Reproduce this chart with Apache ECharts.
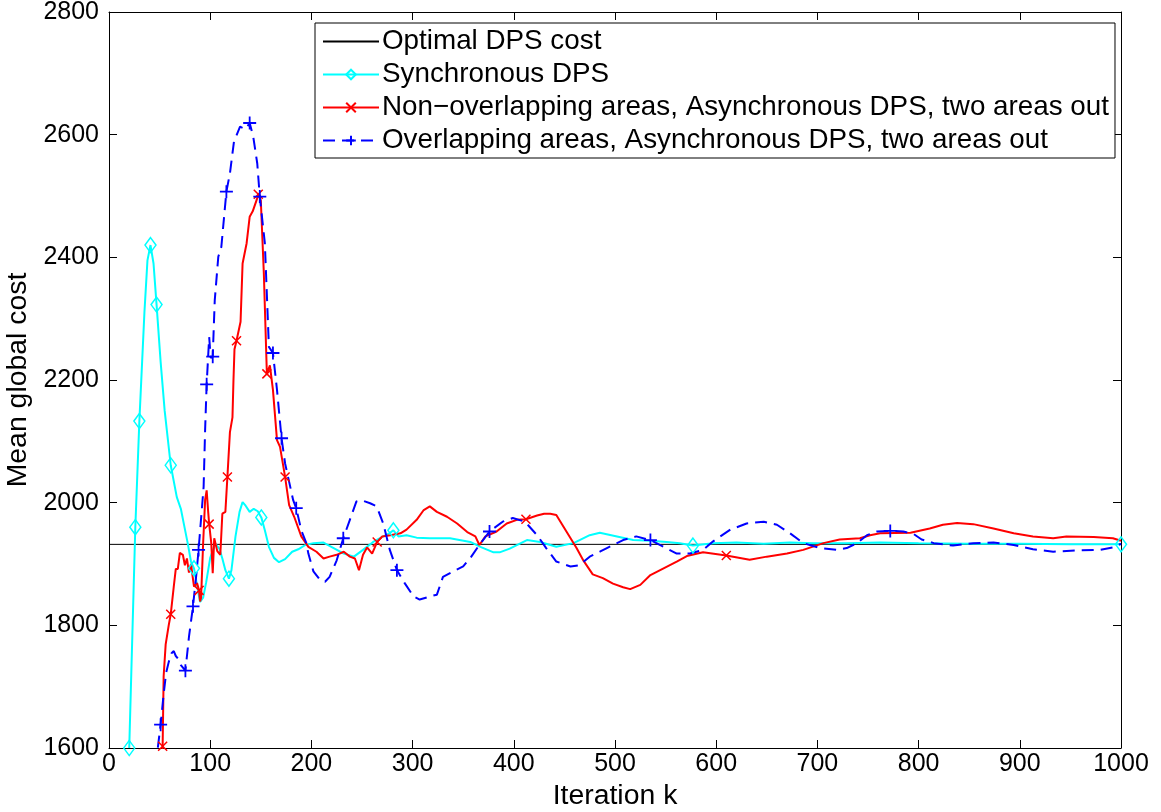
<!DOCTYPE html>
<html>
<head>
<meta charset="utf-8">
<script src="https://cdn.jsdelivr.net/npm/echarts@6/dist/echarts.min.js"></script>
<style>html,body{margin:0;padding:0;background:#fff}#chart{width:1161px;height:812px}</style>
</head>
<body>
<div id="chart"></div>
<script>
// ---- data (iteration k, mean global cost, marker flag) ----
const optimalCost = 1932;
const xTicks = [0, 100, 200, 300, 400, 500, 600, 700, 800, 900, 1000];
const yTicks = [1600, 1800, 2000, 2200, 2400, 2600, 2800];
const seriesNames = [
  'Optimal DPS cost',
  'Synchronous DPS',
  'Non\u2212overlapping areas, Asynchronous DPS, two areas out',
  'Overlapping areas, Asynchronous DPS, two areas out'
];
const syncPoints = [
  [20,1600,1],[26,1960,1],[30,2133,1],[35,2310,0],[38,2395,0],[41,2420,1],[44,2390,0],[47,2323,1],
  [51,2230,0],[55,2150,0],[61,2061,1],[67,2009,0],[71,1990,0],[74,1965,0],[78,1932,0],[81,1904,0],
  [84,1893,1],[87,1865,0],[90,1838,0],[93,1845,0],[96,1870,0],[100,1910,0],[105,1933,0],[109,1925,0],
  [112,1909,0],[115,1890,0],[118.5,1876,1],[121,1890,0],[125,1945,0],[129,1985,0],[132,2001,0],
  [135,1995,0],[139,1985,0],[143,1990,0],[147,1986,0],[150.5,1976,1],[154,1955,0],[158,1928,0],
  [163,1910,0],[168,1903,0],[174,1908,0],[181,1920,0],[187,1924,0],[194,1931,0],[202,1934,0],
  [212,1935,0],[222,1926,0],[232,1917,0],[242,1912,0],[251,1923,0],[261,1936,0],[271,1945,0],
  [277,1950,0],[281,1955,1],[286,1945,0],[294,1947,0],[304,1943,0],[317,1942,0],[337,1942,0],
  [357,1936,0],[367,1928,0],[380,1919,0],[386,1919,0],[396,1925,0],[413,1939,0],[426,1936,0],
  [442,1928,0],[459,1934,0],[475,1947,0],[485,1951,0],[502,1945,0],[518,1939,0],[535,1938,0],
  [551,1936,0],[564,1934,0],[577,1930,1],[597,1934,0],[620,1935,0],[647,1933,0],[673,1935,0],
  [696,1934,0],[729,1934,0],[762,1935,0],[800,1934,0],[850,1933,0],[900,1933,0],[950,1932,0],
  [1000,1932,1]
];
const nonOverlapPoints = [
  [52,1560,0],[53,1603,1],[54,1717,0],[56,1769,0],[59,1800,0],[61,1818,1],[64,1863,0],[66,1892,0],
  [68,1892,0],[70,1918,0],[73,1915,0],[75,1898,0],[77,1909,0],[79,1886,0],[81,1900,0],[84,1863,0],
  [87,1869,0],[89,1857,1],[90,1839,0],[91,1845,0],[93,1933,0],[95,2005,0],[96.5,2020,0],[98,1985,0],
  [99,1965,1],[101,1935,0],[102.5,1885,0],[104,1942,0],[107,1921,0],[110,1915,0],[112,1982,0],
  [115,1985,0],[117,2042,1],[119.5,2115,0],[122,2139,0],[123,2200,0],[124,2250,0],[126,2264,1],
  [130,2295,0],[132,2390,0],[136,2423,0],[139,2466,0],[142,2475,0],[146,2494,0],[147.5,2503,1],
  [150,2493,0],[153,2374,0],[156,2210,1],[159,2224,0],[162,2184,0],[166,2102,0],[169,2091,0],
  [174,2042,1],[178,1996,0],[183,1977,0],[190,1945,0],[197,1928,0],[205,1920,0],[212,1909,0],
  [218,1912,0],[225,1915,0],[232,1920,0],[238,1912,0],[243,1909,0],[247,1890,0],[251,1915,0],
  [255,1927,0],[260,1917,0],[265,1936,1],[270,1945,0],[278,1947,0],[288,1950,0],[294,1956,0],
  [304,1972,0],[311,1988,0],[317,1994,0],[324,1985,0],[334,1977,0],[344,1966,0],[354,1952,0],
  [362,1945,0],[366,1931,0],[372,1945,0],[383,1953,0],[393,1966,0],[403,1972,0],[412,1973,1],
  [423,1979,0],[430,1982,0],[436,1982,0],[442,1980,0],[452,1953,0],[462,1926,0],[469,1905,0],
  [478,1883,0],[488,1877,0],[498,1868,0],[508,1862,0],[515,1859,0],[525,1866,0],[535,1882,0],
  [548,1893,0],[561,1904,0],[571,1913,0],[587,1919,0],[610,1914,1],[633,1907,0],[650,1912,0],
  [670,1917,0],[686,1923,0],[706,1934,0],[722,1940,0],[742,1942,0],[752,1947,0],[762,1950,0],
  [792,1951,0],[811,1958,0],[824,1964,0],[838,1967,0],[854,1965,0],[874,1958,0],[894,1950,0],
  [913,1945,0],[933,1942,0],[946,1945,0],[973,1944,0],[992,1942,0],[1000,1938,0]
];
const overlapPoints = [
  [46,1570,0],[51,1638,1],[54,1688,0],[56.5,1723,0],[59,1740,0],[62,1755,0],[64,1758,0],[66,1750,0],
  [68,1746,0],[71,1735,0],[75.5,1726,1],[79,1781,0],[83,1831,1],[86.5,1886,0],[88.5,1923,1],
  [91,1974,0],[93.5,2026,0],[95,2120,0],[96.5,2193,1],[99,2270,0],[100.5,2236,0],[102.5,2238,1],
  [104.5,2330,0],[108,2401,0],[111,2417,0],[116,2507,1],[119.5,2537,0],[123.5,2589,0],[129.5,2613,0],
  [135,2609,0],[139,2619,1],[142.5,2597,0],[146.5,2553,0],[149,2499,1],[154,2423,0],[158,2254,0],
  [162,2244,1],[166,2184,0],[170.5,2105,1],[174,2064,0],[182,2004,0],[185,1991,1],[190,1955,0],
  [195,1934,0],[197,1917,0],[202,1888,0],[208.5,1874,0],[213.5,1871,0],[218,1879,0],[225,1906,0],
  [231.5,1942,1],[238,1972,0],[244.5,2002,0],[249.5,2004,0],[258,1999,0],[264.5,1994,0],[271,1966,0],
  [277.5,1923,0],[284.5,1890,1],[292.5,1868,0],[301,1847,0],[307,1842,0],[317,1847,0],[324,1850,0],
  [330,1879,0],[340,1888,0],[350,1896,0],[358,1912,0],[365,1929,0],[376,1953,1],[389,1969,0],
  [399,1975,0],[411,1969,0],[423,1947,0],[432,1926,0],[442,1904,0],[456,1896,0],[465,1898,0],
  [475,1912,0],[485,1920,0],[492,1926,0],[508,1939,0],[521,1945,0],[535,1939,1],[548,1928,0],
  [561,1917,0],[574,1917,0],[587,1923,0],[597,1937,0],[614,1956,0],[630,1966,0],[647,1969,0],
  [660,1964,0],[673,1950,0],[686,1934,0],[703,1926,0],[719,1923,0],[729,1926,0],[739,1934,0],
  [749,1947,0],[759,1953,0],[772,1954,1],[785,1953,0],[795,1949,0],[803,1940,0],[815,1934,0],
  [834,1930,0],[854,1934,0],[874,1935,0],[894,1931,0],[913,1924,0],[933,1920,0],[956,1922,0],
  [979,1923,0],[992,1927,0],[1000,1933,0]
];

// ---- fonts ----
const mctx = document.createElement('canvas').getContext('2d');
function w(font, t){ mctx.font = font; return mctx.measureText(t).width; }
const probe = seriesNames[2];
const narrowOK = w("100px 'Liberation Sans Narrow', monospace", probe) !== w("100px monospace", probe);
const textFamily = narrowOK ? "'Liberation Sans Narrow'" : "'Liberation Sans'";
const legendFont = Math.round(100 * 726 / w('100px ' + textFamily, probe) * 10) / 10;
const nameFont = Math.round(100 * 215 / w('100px ' + textFamily, 'Mean global cost') * 10) / 10;
const tickFamily = "'Liberation Sans', Arial, sans-serif";

function toData(points, sym){
  return points.map(p => ({ value: [p[0], p[1]], symbol: p[2] ? sym : 'none' }));
}
const diamond = 'path://M6,0L12,8L6,16L0,8Z';
const cross = 'path://M0,0L10,10M10,0L0,10';
const plus = 'path://M6,0L6,12M0,6L12,6';
const plain = v => String(v);

const axisCommon = {
  axisLine: { onZero: false, lineStyle: { color: '#000', width: 1 } },
  axisTick: { inside: true, length: 8, lineStyle: { color: '#000', width: 1 } },
  splitLine: { show: false }
};

const chart = echarts.init(document.getElementById('chart'), null, { renderer: 'canvas' });
chart.setOption({
  animation: false,
  backgroundColor: '#fff',
  grid: { left: 109, right: 40, top: 12, bottom: 64, containLabel: false, outerBoundsMode: 'none' },
  legend: {
    orient: 'vertical', left: 315, top: 23,
    padding: [2, 6, 1, 7],
    backgroundColor: '#fff', borderColor: '#000', borderWidth: 1, borderRadius: 0,
    itemWidth: 56, itemHeight: 12, itemGap: 0,
    selectedMode: false,
    textStyle: { color: '#000', fontSize: legendFont, fontFamily: textFamily, lineHeight: 33, padding: [0,0,0,-2] },
    data: seriesNames
  },
  xAxis: [
    Object.assign({
      type: 'value', min: xTicks[0], max: xTicks[xTicks.length-1], interval: xTicks[1]-xTicks[0], position: 'bottom',
      axisLabel: { color: '#000', fontSize: 25, fontFamily: tickFamily, margin: 4, formatter: plain },
      name: 'Iteration k', nameLocation: 'middle', nameGap: 34,
      nameTextStyle: { color: '#000', fontSize: nameFont, fontFamily: textFamily }
    }, axisCommon),
    Object.assign({
      type: 'value', min: xTicks[0], max: xTicks[xTicks.length-1], interval: xTicks[1]-xTicks[0], position: 'top',
      axisLabel: { show: false }
    }, axisCommon)
  ],
  yAxis: [
    Object.assign({
      type: 'value', min: yTicks[0], max: yTicks[yTicks.length-1], interval: yTicks[1]-yTicks[0], position: 'left',
      axisLabel: { color: '#000', fontSize: 25, fontFamily: tickFamily, margin: 10, formatter: plain },
      name: 'Mean global cost', nameLocation: 'middle', nameGap: 72, nameRotate: 90,
      nameTextStyle: { color: '#000', fontSize: nameFont, fontFamily: textFamily }
    }, axisCommon),
    Object.assign({
      type: 'value', min: yTicks[0], max: yTicks[yTicks.length-1], interval: yTicks[1]-yTicks[0], position: 'right',
      axisLabel: { show: false }
    }, axisCommon)
  ],
  series: [
    {
      name: seriesNames[0], type: 'line', symbol: 'none', showSymbol: false, clip: true,
      data: [[xTicks[0], optimalCost], [xTicks[xTicks.length-1], optimalCost]],
      lineStyle: { color: '#000', width: 1 }, itemStyle: { color: 'rgba(0,0,0,0)' },
      emphasis: { disabled: true }, silent: true
    },
    {
      name: seriesNames[1], type: 'line', symbol: diamond, symbolSize: [11, 15], clip: true,
      data: toData(syncPoints, diamond),
      lineStyle: { color: '#00ffff', width: 2 },
      itemStyle: { color: 'rgba(0,0,0,0)', borderColor: '#00ffff', borderWidth: 1.5 },
      emphasis: { disabled: true }, silent: true
    },
    {
      name: seriesNames[2], type: 'line', symbol: cross, symbolSize: 9, clip: true,
      data: toData(nonOverlapPoints, cross),
      lineStyle: { color: '#ff0000', width: 2 },
      itemStyle: { color: 'rgba(0,0,0,0)', borderColor: '#ff0000', borderWidth: 1.5 },
      emphasis: { disabled: true }, silent: true
    },
    {
      name: seriesNames[3], type: 'line', symbol: plus, symbolSize: 13, clip: true,
      data: toData(overlapPoints, plus),
      lineStyle: { color: '#0000ff', width: 2, type: [12, 7] },
      itemStyle: { color: 'rgba(0,0,0,0)', borderColor: '#0000ff', borderWidth: 1.8 },
      emphasis: { disabled: true }, silent: true
    }
  ]
});
</script>
</body>
</html>
